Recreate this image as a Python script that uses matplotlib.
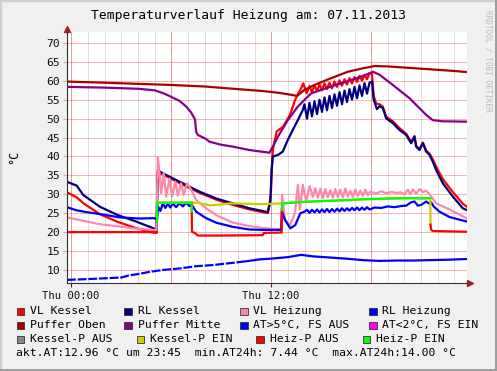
import matplotlib
matplotlib.use("Agg")
import matplotlib.pyplot as plt
from matplotlib.patches import Rectangle
import numpy as np

nan = float("nan")

# --- Messwerte (Stunden ab 00:00, °C) ---
vl_kessel_t = [-0.25, 0.3, 0.75, 1.7, 2.8, 3.8, 4.9, 5.12, 5.18, 5.7, 6.7, 7.7, 8.7, 9.7, 10.7, 11.8,
               11.98, 12.03, 12.1, 12.33, 12.72, 13.13, 13.43, 13.63, 13.8, 13.93,
               14.13, 14.3, 14.45, 14.6, 14.75, 14.9, 15.05, 15.2, 15.35, 15.5, 15.65, 15.8, 15.95,
               16.1, 16.25, 16.4, 16.55, 16.7, 16.85, 17.0, 17.15, 17.3, 17.45, 17.6, 17.75, 17.9, 18.05,
               18.15, 18.3, 18.5, 18.7, 18.9, 19.3, 19.7, 20.1, 20.4, 20.6, 20.7, 20.9, 21.1, 21.3,
               21.5, 21.7, 21.9, 22.3, 22.9, 23.5, 23.75]
vl_kessel_v = [30.5, 29.3, 27.6, 24.8, 22.7, 21.2, 19.9, 19.8, 35.8, 34.8, 32.5, 30.4, 28.6, 27.2, 26.0, 25.0,
               30.0, 36.4, 41.7, 46.6, 47.9, 51.0, 54.9, 56.7, 58.0, 59.3,
               56.7, 58.6, 57.0, 58.8, 57.3, 59.0, 57.5, 59.3, 57.8, 59.5, 58.0, 59.8, 58.4,
               60.1, 58.7, 60.4, 59.0, 60.7, 59.3, 61.0, 59.7, 61.3, 60.0, 61.6, 60.4, 62.0, 61.8,
               56.0, 54.0, 53.8, 53.2, 50.5, 49.3, 47.5, 46.0, 43.8, 45.4, 42.8, 41.9, 43.7, 41.5,
               40.8, 39.2, 37.3, 34.0, 30.6, 27.5, 26.7]

rl_kessel_t = [-0.25, 0.33, 0.73, 1.73, 2.8, 3.9, 4.95, 5.12, 5.2, 5.7, 6.7, 7.7, 8.7, 9.7, 10.7, 11.8,
               11.95, 12.03, 12.1, 12.4, 12.7, 13.0, 13.4, 13.6, 13.9, 14.0,
               14.15, 14.3, 14.45, 14.6, 14.75, 14.9, 15.05, 15.2, 15.35, 15.5, 15.65, 15.8, 15.95,
               16.1, 16.25, 16.4, 16.55, 16.7, 16.85, 17.0, 17.15, 17.3, 17.45, 17.6, 17.75, 17.9,
               18.05, 18.15, 18.35, 18.5, 18.7, 18.9, 19.3, 19.7, 20.1, 20.4, 20.6, 20.7, 20.9, 21.1,
               21.3, 21.5, 21.7, 21.9, 22.3, 22.9, 23.5, 23.75]
rl_kessel_v = [33.3, 32.3, 29.8, 26.7, 24.5, 22.8, 21.0, 20.6, 36.3, 35.1, 32.9, 30.7, 28.9, 27.6, 26.3, 25.3,
               28.0, 36.4, 40.0, 40.4, 41.3, 44.4, 47.9, 49.6, 52.3, 53.8,
               50.0, 54.2, 50.6, 54.6, 51.2, 55.0, 51.8, 55.6, 52.2, 56.0, 52.8, 56.4, 53.4,
               57.0, 53.8, 57.4, 54.4, 57.8, 55.0, 58.4, 55.4, 58.8, 56.0, 59.4, 56.6, 59.5,
               59.8, 55.0, 52.5, 53.3, 52.8, 50.1, 48.8, 47.0, 45.7, 43.5, 45.2, 42.6, 41.7, 43.5,
               41.3, 40.4, 38.6, 36.4, 32.9, 29.4, 26.3, 25.8]

vl_heizung_t = [-0.25, 0.5, 1.7, 2.9, 3.7, 4.9, 5.12, 5.2, 5.3, 5.4, 5.55, 5.7, 5.9, 6.05, 6.25, 6.4,
                6.6, 6.75, 6.95, 7.15, 7.5, 8.1, 8.7, 9.7, 10.7, 11.5, 12.0, 12.6,
                12.66, 12.83, 13.13, 13.43, 13.6, 13.72, 13.9, 14.1, 14.3, 14.5,
                14.65, 14.8, 14.95, 15.1, 15.25, 15.4, 15.55, 15.7, 15.85, 16.0, 16.15, 16.3, 16.45,
                16.6, 16.75, 16.9, 17.05, 17.2, 17.35, 17.5, 17.65, 17.8, 17.95,
                18.3, 18.6, 18.9, 19.2, 19.5, 19.8, 20.0, 20.2, 20.35, 20.5, 20.7, 20.9, 21.1, 21.3,
                21.5, 21.9, 22.7, 23.75]
vl_heizung_v = [23.9, 23.2, 22.1, 21.5, 21.0, 20.6, 20.6, 39.8, 35.5, 30.3, 35.6, 29.4, 34.2, 29.4, 33.3, 29.6,
                32.9, 29.8, 32.9, 31.6, 28.5, 26.3, 24.5, 22.5, 21.6, 21.1, 20.9, 20.8,
                29.8, 23.2, 21.9, 25.0, 32.5, 26.0, 32.5, 28.0, 32.2, 29.3,
                31.6, 29.1, 31.5, 29.0, 31.4, 29.2, 31.1, 29.1, 31.4, 29.3, 31.2, 29.2, 31.5,
                29.4, 30.9, 29.3, 31.3, 29.5, 31.0, 29.6, 31.2, 29.8, 30.7,
                30.2, 30.8, 30.3, 30.6, 30.4, 30.5, 30.0, 31.2, 30.0, 31.3, 30.2, 31.4, 30.6, 31.0,
                30.0, 27.6, 26.0, 23.6]

rl_heizung_t = [-0.25, 0.3, 0.9, 1.7, 2.9, 4.1, 5.0, 5.15, 5.22, 5.35, 5.5, 5.65, 5.8, 5.95, 6.1, 6.3,
                6.5, 6.7, 6.9, 7.1, 7.23, 7.5, 8.1, 8.7, 9.7, 10.7, 11.5, 12.6,
                12.65, 12.83, 13.15, 13.45, 13.75, 14.0,
                14.15, 14.3, 14.45, 14.6, 14.75, 14.9, 15.05, 15.2, 15.35, 15.5, 15.65, 15.8, 15.95,
                16.1, 16.25, 16.4, 16.55, 16.7, 16.85, 17.0, 17.15, 17.3, 17.45, 17.6, 17.75, 17.9,
                18.2, 18.6, 19.0, 19.4, 19.8, 20.1, 20.4, 20.6, 20.8, 21.0, 21.3, 21.45, 21.6, 21.75,
                22.1, 22.7, 23.3, 23.75]
rl_heizung_v = [26.6, 25.8, 25.3, 24.8, 23.9, 23.6, 23.7, 23.2, 26.7, 25.6, 27.6, 26.4, 27.5, 26.5, 27.6, 26.6,
                27.7, 26.8, 27.8, 26.9, 27.3, 25.4, 23.7, 22.5, 21.4, 20.7, 20.6, 20.6,
                25.4, 23.2, 21.0, 21.9, 25.0, 25.4,
                25.9, 25.1, 25.9, 25.2, 26.0, 25.2, 26.0, 25.3, 26.1, 25.3, 26.1, 25.4, 26.2,
                25.5, 26.3, 25.6, 26.3, 25.7, 26.4, 25.8, 26.5, 25.8, 26.5, 25.9, 26.6, 26.0,
                26.5, 26.4, 26.8, 26.6, 26.9, 27.0, 27.9, 28.1, 27.0, 27.2, 28.1, 27.6, 27.9, 26.8,
                25.4, 24.0, 23.3, 22.8]

puffer_oben_t = [-0.25, 2, 4, 6, 8, 10, 11.5, 12.5, 13.2, 13.55, 14.0, 14.6, 15.6, 16.6, 17.5, 18.2,
                 19, 20, 21, 22, 23, 23.75]
puffer_oben_v = [59.8, 59.5, 59.2, 58.9, 58.5, 57.8, 57.3, 56.8, 56.3, 56.0, 57.6, 58.9, 60.7, 62.4, 63.3, 63.9,
                 63.8, 63.5, 63.2, 62.9, 62.6, 62.3]

puffer_mitte_t = [-0.25, 2.0, 4.0, 5.0, 5.6, 6.5, 6.9, 7.2, 7.43, 7.5, 7.6, 8.1, 8.3, 9.0, 9.7, 10.7,
                  11.9, 12.1, 12.4, 13.0, 13.6, 14.4, 15.6, 16.8, 17.6, 18.1, 18.5, 19.3, 20.3, 21.3,
                  21.7, 22.3, 23.75]
puffer_mitte_v = [58.4, 58.2, 57.9, 57.5, 56.6, 54.7, 53.2, 51.6, 49.8, 46.5, 45.7, 44.6, 43.9, 43.1, 42.6, 41.7,
                  41.0, 42.6, 45.2, 49.6, 53.2, 56.7, 58.5, 60.2, 61.4, 62.4, 61.6, 58.9, 55.4, 51.0,
                  49.6, 49.3, 49.2]

at_t = [-0.25, 0.5, 1.5, 2.5, 3.0, 3.5, 4.0, 4.7, 5.5, 6.5, 7.5, 8.5, 9.5, 10.5, 11.3, 12.0, 13.0, 13.8,
        14.5, 15.5, 16.5, 17.5, 18.5, 19.5, 20.5, 21.5, 22.5, 23.75]
at_v = [7.4, 7.5, 7.7, 7.9, 8.0, 8.6, 8.9, 9.5, 10.0, 10.4, 11.0, 11.3, 11.8, 12.3, 12.8, 13.0, 13.4, 14.0,
        13.6, 13.3, 13.0, 12.6, 12.4, 12.5, 12.5, 12.6, 12.7, 12.9]

kesselp_ein_t = [5.15, 7.23, 7.7, 8.3, 9.0, 9.5, 10.5, 11.3, 12.0, 12.64, 14.0, 15.6, 17.6, 19.2, 20.5,
                 21.0, 21.55, 21.56]
kesselp_ein_v = [27.8, 27.8, 27.7, 27.1, 27.3, 27.6, 27.5, 27.4, 27.5, 27.6, 28.0, 28.3, 28.7, 28.9, 29.0,
                 28.9, 29.0, 21.9]

heizp_aus_t = [-0.25, 5.15, nan, 7.23, 7.25, 7.45, 7.6, 9.0, 11.5, 11.55, 12.6, 12.63, 12.64, nan,
               21.56, 21.6, 21.7, 23.75]
heizp_aus_v = [20.0, 20.0, nan, 27.8, 20.1, 19.7, 19.1, 19.1, 19.2, 19.8, 19.9, 19.9, 25.9, nan,
               22.0, 20.6, 20.3, 20.1]

heizp_ein_t = [5.15, 5.16, 7.23, 7.24, nan, 12.64, 12.66, 14.0, 15.6, 17.6, 19.2, 20.5, 21.0, 21.55]
heizp_ein_v = [22.8, 27.8, 27.8, 25.5, nan, 25.9, 27.6, 28.0, 28.3, 28.7, 28.9, 29.0, 28.9, 29.0]

legende = [("VL Kessel", "#ff0000"), ("RL Kessel", "#000080"), ("VL Heizung", "#ff88aa"),
           ("RL Heizung", "#0000ff"), ("Puffer Oben", "#aa0000"), ("Puffer Mitte", "#880088"),
           ("AT>5°C, FS AUS", "#0000ff"), ("AT<2°C, FS EIN", "#ff00ff"), ("Kessel-P AUS", "#888888"),
           ("Kessel-P EIN", "#cccc00"), ("Heiz-P AUS", "#ff0000"), ("Heiz-P EIN", "#00ff00")]

W, H = 497, 371
mono = "DejaVu Sans Mono"


def px(x):
    return x / W


def py(y):
    return 1 - y / H


fig = plt.figure(figsize=(W / 100, H / 100), dpi=100, facecolor="#f0f0f0")
ax = fig.add_axes([px(67), py(283), 400 / W, 251 / H])
ax.set_facecolor("white")

x0, x1 = -0.25, 23.75
y0, y1 = 6.56, 72.9
ax.set_xlim(x0, x1)
ax.set_ylim(y0, y1)

# Gitter
for h in range(0, 24):
    ax.axvline(h, color=(0.5, 0.5, 0.5, 0.25), lw=0.7, zorder=0)
for h in (0, 6, 12, 18):
    ax.axvline(h, color=(1, 0, 0, 0.3), lw=0.7, zorder=0.5)
for v in range(10, 71, 5):
    ax.axhline(v, color=(1, 0, 0, 0.3), lw=0.7, zorder=0.5)

lw = 1.6
ax.plot(vl_kessel_t, vl_kessel_v, color="#ff0000", lw=lw)
ax.plot(rl_kessel_t, rl_kessel_v, color="#000080", lw=lw)
ax.plot(vl_heizung_t, vl_heizung_v, color="#ff88aa", lw=lw)
ax.plot(rl_heizung_t, rl_heizung_v, color="#0000ff", lw=lw)
ax.plot(puffer_oben_t, puffer_oben_v, color="#aa0000", lw=lw)
ax.plot(puffer_mitte_t, puffer_mitte_v, color="#880088", lw=lw)

at_t = np.array(at_t)
at_v = np.array(at_v)
links = at_t <= 10.5
ax.plot(at_t[links], at_v[links], color="#0000ff", lw=lw, dashes=(4, 0.8))
ax.plot(at_t[at_t >= 10.5], at_v[at_t >= 10.5], color="#0000ff", lw=lw)

ax.plot(kesselp_ein_t, kesselp_ein_v, color="#cccc00", lw=lw)
ax.plot(heizp_aus_t, heizp_aus_v, color="#ff0000", lw=lw)
ax.plot(heizp_ein_t, heizp_ein_v, color="#00ff00", lw=lw)

for s in ("top", "right"):
    ax.spines[s].set_visible(False)
for s in ("left", "bottom"):
    ax.spines[s].set_color("#303030")
    ax.spines[s].set_linewidth(0.8)

ax.plot([x0], [y1 + 0.9], marker="^", ms=4.5, color="#a02020", clip_on=False)
ax.plot([x1 + 0.2], [y0], marker=">", ms=4.5, color="#a02020", clip_on=False)

ax.set_yticks(range(10, 71, 5))
ax.set_xticks([0, 12])
ax.set_xticklabels(["Thu 00:00", "Thu 12:00"])
ax.tick_params(axis="y", length=3, color=(1, 0, 0, 0.35), pad=2, labelsize=8.2)
ax.tick_params(axis="x", length=3, color="#303030", pad=3, labelsize=7.6)
for lab in ax.get_xticklabels() + ax.get_yticklabels():
    lab.set_fontfamily(mono)
    lab.set_color("#101010")

fig.text(px(249), py(16), "Temperaturverlauf Heizung am: 07.11.2013", family=mono, fontsize=9.4,
         ha="center", va="center")
fig.text(px(14), py(157), "°C", family=mono, fontsize=8.5, rotation=90, ha="center", va="center")
fig.text(px(488), py(61), "RRDTOOL / TOBI OETIKER", family=mono, fontsize=5.6, rotation=270,
         ha="center", va="center", color="#bdbdbd")

# Legende
box_x = [[16.7, 124, 240, 369], [16.7, 124, 240, 369], [16.7, 136.7, 256, 362.7]]
txt_x = [[30, 138, 253, 382], [30, 138, 253, 382], [30, 150, 270, 376]]
row_y = [311, 325, 339]
for i, (name, col) in enumerate(legende):
    r, c = divmod(i, 4)
    bx, yy = box_x[r][c], row_y[r]
    fig.add_artist(Rectangle((px(bx), py(yy + 4)), 7.5 / W, 7.5 / H, transform=fig.transFigure,
                             facecolor=col, edgecolor="#333333", lw=0.6))
    fig.text(px(txt_x[r][c]), py(yy), name, family=mono, fontsize=8.2, ha="left", va="center")

fig.text(px(16), py(353), "akt.AT:12.96 °C um 23:45  min.AT24h: 7.44 °C  max.AT24h:14.00 °C",
         family=mono, fontsize=8.2, ha="left", va="center")

# Rahmen
fig.add_artist(Rectangle((0, 0), 1, 1, transform=fig.transFigure, fill=False, edgecolor="#cfcfcf", lw=2.5))
fig.add_artist(Rectangle((0, 0), 1, 2.5 / H, transform=fig.transFigure, facecolor="#9e9e9e", lw=0))
fig.add_artist(Rectangle((1 - 2.5 / W, 0), 2.5 / W, 1, transform=fig.transFigure, facecolor="#9e9e9e", lw=0))

fig.savefig("out.png", dpi=100, facecolor=fig.get_facecolor())
